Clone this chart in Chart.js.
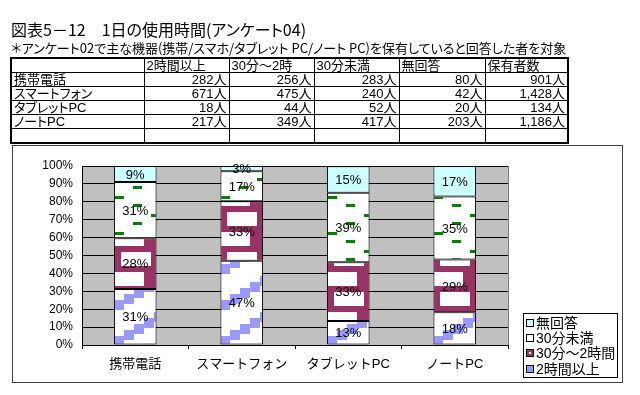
<!DOCTYPE html>
<html><head><meta charset="utf-8">
<script src="https://cdn.jsdelivr.net/npm/chart.js@4/dist/chart.umd.min.js"></script>
<style>
html,body{margin:0;padding:0;background:#fff;width:640px;height:395px;overflow:hidden;}
#wrap{position:relative;width:640px;height:395px;}
#c{position:absolute;left:0;top:0;}
.t{position:absolute;font-family:'Noto Sans CJK JP',sans-serif;font-feature-settings:"palt";color:#000;white-space:nowrap;}
#title{left:11px;top:19px;font-size:16px;line-height:20px;}
#sub{left:11px;top:40px;font-size:13px;line-height:16px;}
#tbl{position:absolute;left:10px;top:57px;border-collapse:collapse;table-layout:fixed;width:559px;border:2px solid #000;
 font-family:'Liberation Sans','Noto Sans CJK JP',sans-serif;font-feature-settings:"palt";font-size:13px;color:#000;}
#tbl td{border:1px solid #000;height:13px;padding:0 2px;line-height:13px;overflow:hidden;white-space:nowrap;}
#tbl td.n{text-align:right;}
</style></head>
<body><div id="wrap">
<canvas id="c" width="640" height="395"></canvas>
<div class="t" id="title">図表5－12　1日の使用時間(アンケート04)</div>
<div class="t" id="sub">＊アンケート02で主な機器(携帯/スマホ/タブレット PC/ノート PC)を保有していると回答した者を対象</div>
<table id="tbl"><colgroup><col style="width:133px"><col style="width:85px"><col style="width:85px"><col style="width:85px"><col style="width:86px"><col style="width:83px"></colgroup><tbody id="tb"></tbody></table>
</div>
<script>
// ---- data ----
const categories = ['携帯電話','スマートフォン','タブレットPC','ノートPC'];
const tableHeaders = ['2時間以上','30分～2時','30分未満','無回答','保有者数'];
const countOver2h = [282, 671, 18, 217];
const count30to2h = [256, 475, 44, 349];
const countUnder30 = [283, 240, 52, 417];
const countNoAnswer = [80, 42, 20, 203];
const countOwners = [901, 1428, 134, 1186];
const seriesNames = ['2時間以上','30分～2時間','30分未満','無回答'];
const pctOver2h = [31.3, 47.0, 13.4, 18.3];
const pct30to2h = [28.4, 33.3, 32.8, 29.4];
const pctUnder30 = [31.4, 16.8, 38.8, 35.2];
const pctNoAnswer = [8.9, 2.9, 14.9, 17.1];
const yTickValues = [0,10,20,30,40,50,60,70,80,90,100];

// ---- table ----
const tb = document.getElementById('tb');
function row(cells, numeric){
  const tr = document.createElement('tr');
  cells.forEach((v,i)=>{const td=document.createElement('td'); td.textContent=v; if(numeric && i>0) td.className='n'; tr.appendChild(td);});
  tb.appendChild(tr);
}
row([''].concat(tableHeaders), false);
categories.forEach((c,i)=>{
  row([c, countOver2h[i]+'人', count30to2h[i]+'人', countUnder30[i]+'人', countNoAnswer[i]+'人', countOwners[i].toLocaleString('en-US')+'人'], true);
});
row(['','','','','',''], false);

// ---- patterns ----
function tile(w,h,draw){const c=document.createElement('canvas');c.width=w;c.height=h;const g=c.getContext('2d');draw(g,w,h);return c;}
const tBlue = tile(60,36,(g,w,h)=>{g.fillStyle='#fff';g.fillRect(0,0,w,h);g.fillStyle='#9999ff';
  for(let k=0;k<6;k++){const y=26-6*k;for(const dy of [-36,0,36]) g.fillRect(k*10,y+dy,10,10);} });
const tMaroon = tile(42,40,(g,w,h)=>{g.fillStyle='#993366';g.fillRect(0,0,w,h);g.fillStyle='#fff';
  g.fillRect(7,6,30,14); g.fillRect(0,26,30,14);} );
const tGreen2 = tile(72,36,(g,w,h)=>{g.fillStyle='#fff';g.fillRect(0,0,w,h);g.fillStyle='#008000';
  g.fillRect(1,30,9,3); g.fillRect(19,2,9,3); g.fillRect(19,20,9,3); g.fillRect(37,12,9,3); g.fillRect(55,2,9,3); g.fillRect(55,20,9,3);} );
const pctx = document.getElementById('c').getContext('2d');
function pat(t, dx, dy){const p=pctx.createPattern(t,'repeat'); if(p.setTransform) p.setTransform(new DOMMatrix().translate(dx,dy)); return p;}
function barPat(t){
  return (c)=>{
    const ch=c.chart; const xs=ch.scales&&ch.scales.x;
    if(!xs || c.dataIndex===undefined || !ch.chartArea) return pat(t,0,0);
    const w = (xs.width/categories.length)*0.4;
    const left = xs.getPixelForValue(c.dataIndex) - w/2;
    return pat(t, Math.round(left), ch.chartArea.top);
  };
}

const FONT = "'Liberation Sans','Noto Sans CJK JP',sans-serif";

const bgPlugin = {
  id:'bg',
  beforeDraw(chart){
    const g=chart.ctx; const a=chart.chartArea;
    g.save();
    g.fillStyle='#fff'; g.fillRect(0,0,chart.width,chart.height);
    g.strokeStyle='#404040'; g.lineWidth=1; g.strokeRect(12.5,145.5,610,237);
    g.fillStyle='#c0c0c0'; g.fillRect(a.left,a.top,a.right-a.left,a.bottom-a.top);
    g.restore();
  },
  beforeDatasetsDraw(chart){
    const g=chart.ctx; const a=chart.chartArea;
    g.save(); g.strokeStyle='#808080'; g.lineWidth=1;
    g.beginPath(); g.moveTo(Math.round(a.right)+0.5,a.top); g.lineTo(Math.round(a.right)+0.5,a.bottom); g.stroke();
    g.restore();
  },
  afterDatasetsDraw(chart){
    const g=chart.ctx;
    g.save(); g.fillStyle='#000'; g.font='13px '+FONT; g.textAlign='center'; g.textBaseline='middle';
    chart.data.datasets.forEach((ds,i)=>{
      chart.getDatasetMeta(i).data.forEach((bar,j)=>{
        const y=(bar.y+bar.base)/2;
        g.fillText(Math.round(ds.data[j])+'%', bar.x, y+1);
      });
    });
    g.restore();
  },
  afterDraw(chart){
    const g=chart.ctx;
    g.save();
    g.fillStyle='#fff'; g.fillRect(523,313,94,64);
    g.strokeStyle='#000'; g.lineWidth=1; g.strokeRect(523.5,313.5,94,64);
    const items=[[3,323],[2,338],[1,353],[0,369]];
    const fills=['#9999ff','#993366','#ffffff','#ccffff'];
    g.font='14px '+FONT; g.textBaseline='middle'; g.textAlign='left';
    items.forEach(([di,y])=>{
      g.fillStyle=fills[di]; g.fillRect(527,y-3,6,6);
      g.strokeStyle='#000'; g.strokeRect(526.5,y-3.5,7,7);
      if(di===1){g.fillStyle='#fff';g.fillRect(529,y-1,2,2);}
      g.fillStyle='#000'; g.fillText(chart.data.datasets[di].label, 536, y+1);
    });
    g.restore();
  }
};

new Chart(document.getElementById('c'), {
  type:'bar',
  data:{
    labels:categories,
    datasets:[
      {label:seriesNames[0], data:pctOver2h, backgroundColor:barPat(tBlue)},
      {label:seriesNames[1], data:pct30to2h, backgroundColor:barPat(tMaroon)},
      {label:seriesNames[2], data:pctUnder30, backgroundColor:barPat(tGreen2)},
      {label:seriesNames[3], data:pctNoAnswer, backgroundColor:'#ccffff'}
    ].map(d=>Object.assign(d,{borderColor:'#000',borderWidth:1,borderSkipped:false,barPercentage:0.4,categoryPercentage:1}))
  },
  options:{
    responsive:false, animation:false, devicePixelRatio:1,
    layout:{padding:{left:12,top:166,right:132,bottom:0}},
    plugins:{legend:{display:false},tooltip:{enabled:false}},
    scales:{
      x:{stacked:true, offset:true,
         grid:{display:true,drawOnChartArea:false,drawTicks:true,tickLength:4,color:'#000',offset:true},
         border:{display:true,color:'#000'},
         ticks:{color:'#000',font:{size:13,family:FONT},padding:8,maxRotation:0},
         afterFit(s){s.height=50;}},
      y:{stacked:true,min:0,max:100,
         afterBuildTicks(s){s.ticks=yTickValues.map(v=>({value:v}));},
         ticks:{color:'#000',font:{size:12,family:FONT},padding:9,callback:v=>v+'%'},
         grid:{color:'#000',drawTicks:false},
         border:{display:true,color:'#000'},
         afterFit(s){s.width=70;}}
    }
  },
  plugins:[bgPlugin]
});
</script>
</body></html>
